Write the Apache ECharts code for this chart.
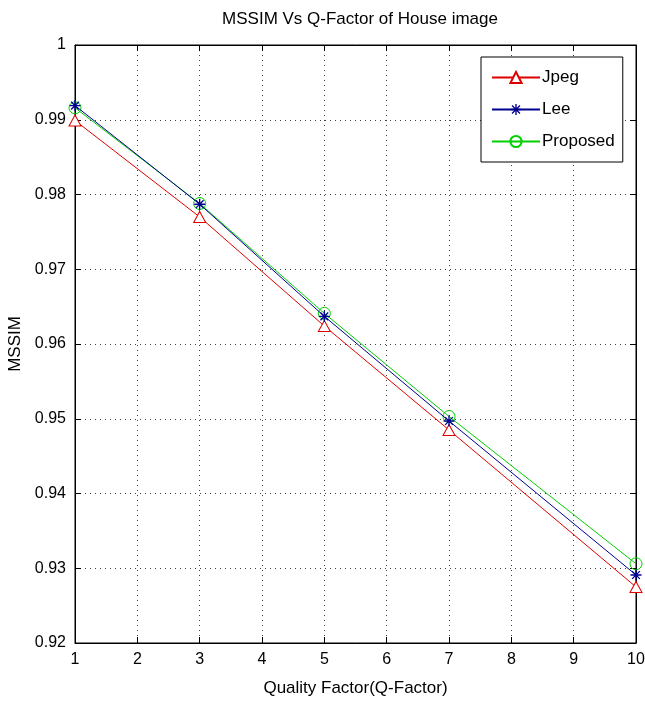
<!DOCTYPE html>
<html><head><meta charset="utf-8">
<script src="https://cdn.jsdelivr.net/npm/echarts@6/dist/echarts.min.js"></script>
<style>html,body{margin:0;padding:0;background:#fff}#c{width:645px;height:708px}</style>
</head><body><div id="c"></div>
<script>
const qFactors = [1, 3, 5, 7, 10];
const jpeg = [0.9899, 0.9770, 0.9624, 0.9485, 0.9275];
const lee = [0.9919, 0.9787, 0.9637, 0.9497, 0.9291];
const proposed = [0.9916, 0.9788, 0.9641, 0.9503, 0.9306];
const seriesNames = ['Jpeg', 'Lee', 'Proposed'];
const titleText = 'MSSIM Vs Q-Factor of House image';
const xName = 'Quality Factor(Q-Factor)';
const yName = 'MSSIM';

const FONT = '"Liberation Sans Narrow", "Liberation Sans", Arial, sans-serif';
const asterisk = 'path://M-0.12,-1 L0.12,-1 L0.12,1 L-0.12,1 Z M-1,-0.12 L1,-0.12 L1,0.12 L-1,0.12 Z M-0.79,-0.62 L-0.62,-0.79 L0.79,0.62 L0.62,0.79 Z M0.62,-0.79 L0.79,-0.62 L-0.62,0.79 L-0.79,0.62 Z';

const pts = arr => qFactors.map((q, i) => [q, arr[i]]);
const chart = echarts.init(document.getElementById('c'));
const dotted = {show: true, lineStyle: {color: '#000', width: 1, type: [1, 4], opacity: 0.75}};
chart.setOption({
  animation: false,
  backgroundColor: '#fff',
  textStyle: {fontFamily: FONT},
  title: {text: titleText, left: 355, textAlign: 'center', top: 6,
    textStyle: {fontFamily: FONT, fontSize: 17, fontWeight: 'normal', color: '#000'}},
  grid: {left: 75, right: 9, top: 45, bottom: 65, show: true, borderColor: '#000', borderWidth: 1,
    containLabel: false, outerBoundsMode: 'none'},
  legend: {
    orient: 'vertical', left: 481, top: 57, width: 146,
    backgroundColor: '#fff', borderColor: '#000', borderWidth: 1,
    padding: [12, 8, 12, 10], itemGap: 15, itemWidth: 48, itemHeight: 14,
    textStyle: {fontFamily: FONT, fontSize: 17, color: '#000', padding: [0, 4, 0, -3]},
    data: seriesNames
  },
  xAxis: [{
    type: 'value', min: 1, max: 10, interval: 1,
    name: xName, nameLocation: 'middle', nameGap: 37,
    nameTextStyle: {fontFamily: FONT, fontSize: 17, color: '#000'},
    axisLine: {show: true, lineStyle: {color: '#000'}},
    axisTick: {show: true, inside: true, length: 6, lineStyle: {color: '#000'}},
    axisLabel: {fontFamily: FONT, fontSize: 16, color: '#000', margin: 9},
    splitLine: dotted
  }, {
    type: 'value', min: 1, max: 10, interval: 1, position: 'top',
    axisLine: {show: true, lineStyle: {color: '#000'}},
    axisTick: {show: true, inside: true, length: 6, lineStyle: {color: '#000'}},
    axisLabel: {show: false}, splitLine: {show: false}
  }],
  yAxis: [{
    type: 'value', min: 0.92, max: 1, interval: 0.01,
    name: yName, nameLocation: 'middle', nameGap: 50,
    nameTextStyle: {fontFamily: FONT, fontSize: 17, color: '#000'},
    axisLine: {show: true, lineStyle: {color: '#000'}},
    axisTick: {show: true, inside: true, length: 6, lineStyle: {color: '#000'}},
    axisLabel: {fontFamily: FONT, fontSize: 16, color: '#000', margin: 9,
      formatter: v => String(+v.toFixed(2))},
    splitLine: dotted
  }, {
    type: 'value', min: 0.92, max: 1, interval: 0.01, position: 'right',
    axisLine: {show: true, lineStyle: {color: '#000'}},
    axisTick: {show: true, inside: true, length: 6, lineStyle: {color: '#000'}},
    axisLabel: {show: false}, splitLine: {show: false}
  }],
  series: [
    {name: seriesNames[0], type: 'line', data: pts(jpeg), symbol: 'triangle', symbolSize: [12, 11],
      itemStyle: {color: '#fff', borderColor: '#e00000', borderWidth: 1},
      lineStyle: {color: '#e00000', width: 1}, color: '#e00000', z: 3},
    {name: seriesNames[1], type: 'line', data: pts(lee), symbol: asterisk, symbolSize: 11,
      itemStyle: {color: '#000090', borderWidth: 0},
      lineStyle: {color: '#000090', width: 1}, color: '#000090', z: 4},
    {name: seriesNames[2], type: 'line', data: pts(proposed), symbol: 'circle', symbolSize: 12,
      itemStyle: {color: 'rgba(255,255,255,0)', borderColor: '#00d000', borderWidth: 1},
      lineStyle: {color: '#00d000', width: 1}, color: '#00d000', z: 2}
  ]
});
</script></body></html>
